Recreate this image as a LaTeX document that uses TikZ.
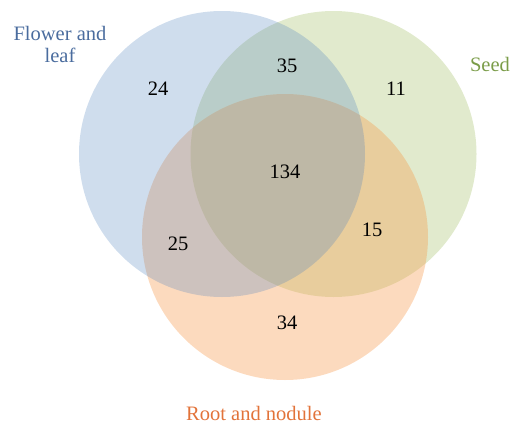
\documentclass[tikz,border=0pt]{standalone}
\usepackage{fontspec}
\setmainfont{Liberation Serif}
\usetikzlibrary{positioning}
\definecolor{vnazul}{HTML}{4F81BD}
\definecolor{vnverde}{HTML}{9BBB59}
\definecolor{vnlaranja}{HTML}{F79646}
\definecolor{vnazultexto}{HTML}{4A6C9E}
\definecolor{vnverdetexto}{HTML}{7A9C48}
\definecolor{vnlaranjatexto}{HTML}{E2733A}
\tikzset{
  vnconj/.style={circle, minimum size=286pt, inner sep=0pt, draw=none},
  vnnum/.style={font=\fontsize{20.5}{24}\selectfont, text=black, inner sep=0pt},
  vnrotulo/.style={font=\fontsize{20.5}{24}\selectfont, inner sep=0pt, anchor=base, align=center},
}
\begin{document}
\begin{tikzpicture}[x=1pt, y=-1pt]
    \useasboundingbox (0,0) rectangle (511,423);
    % conjuntos
    \node[vnconj, fill=vnverde, fill opacity=0.3] (semente) at (333.5,154) {};
    \node[vnconj, fill=vnlaranja, fill opacity=0.35] (raiz) at (285,237) {};
    \node[vnconj, fill=vnazul, fill opacity=0.27] (folha) at (222,154) {};
    % rotulos
    \node[vnrotulo, text=vnazultexto] (tfolha) at (60,40) {Flower and};
    \node[vnrotulo, text=vnazultexto] (tfolha2) at (60,62) {leaf};
    \node[vnrotulo, text=vnverdetexto] (tsemente) at (490,71) {Seed};
    \node[vnrotulo, text=vnlaranjatexto] (traiz) at (254,420) {Root and nodule};
    % contagens
    \node[vnnum] (n24) at (158,89) {24};
    \node[vnnum] (n35) at (287,66) {35};
    \node[vnnum] (n11) at (396,89) {11};
    \node[vnnum] (n134) at (285,172) {134};
    \node[vnnum] (n25) at (178,244) {25};
    \node[vnnum] (n15) at (372,230) {15};
    \node[vnnum] (n34) at (287,323) {34};
\end{tikzpicture}
\end{document}
